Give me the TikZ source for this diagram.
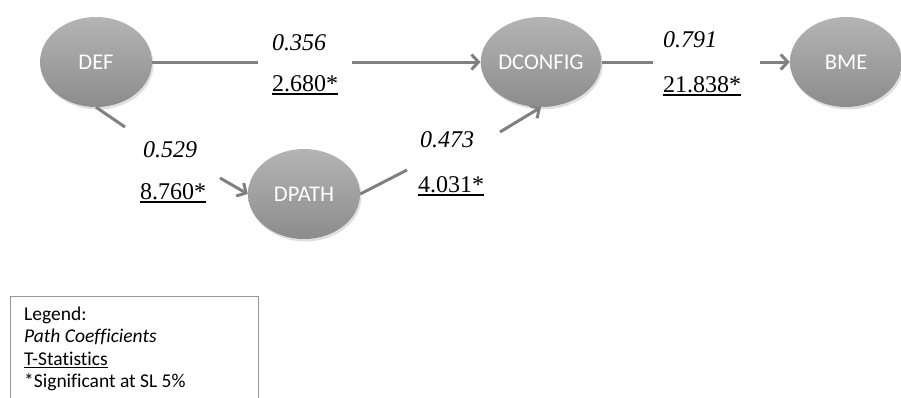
\documentclass[tikz,border=0pt]{standalone}
\usepackage{fontspec}
\setmainfont{Liberation Serif}
\newfontfamily\calibfont[Ligatures=NoCommon]{Carlito}
\usetikzlibrary{shapes.geometric,arrows.meta,shadows,backgrounds}
\definecolor{edgegray}{RGB}{128,128,128}
\definecolor{ballTop}{RGB}{180,180,180}
\definecolor{ballBot}{RGB}{140,140,140}
\definecolor{boxgray}{RGB}{150,150,150}
\newcommand\myuline[2][3.5pt]{\setbox0\hbox{#2}\rlap{\rule[-#1]{\wd0}{1.1pt}}\box0}
\tikzset{
  latent/.style={ellipse, minimum width=112pt, minimum height=90pt, inner sep=0pt,
    top color=ballTop, bottom color=ballBot, draw=none, text=white,
    font=\calibfont\fontsize{22.5}{26}\selectfont,
    drop shadow={opacity=0.25, shadow xshift=1.5pt, shadow yshift=-2.5pt}},
  edge/.style={draw=edgegray, line width=3pt},
  arr/.style={edge, -{Straight Barb[length=7pt,width=15pt,line width=3pt]}},
  coef/.style={font=\itshape\fontsize{24}{28}\selectfont, anchor=base west, inner sep=0pt},
  tstat/.style={font=\fontsize{24}{28}\selectfont, anchor=base west, inner sep=0pt},
  legendtext/.style={font=\calibfont\fontsize{19.5}{22.5}\selectfont, align=left, anchor=north west, inner sep=0pt}
}
\begin{document}
\begin{tikzpicture}[x=1pt,y=-1pt]
\useasboundingbox (0,0) rectangle (901,397);
% latent variables
\node[latent] (DEF) at (96,62) {DEF};
\node[latent] (DCONFIG) at (541,62) {DCONFIG};
\node[latent] (BME) at (846,62) {BME};
\node[latent] (DPATH) at (304,194) {DPATH};
% gap ends of the connectors
\coordinate (g1a) at (258,62); \coordinate (g1b) at (352,62);
\coordinate (g2a) at (653,62); \coordinate (g2b) at (760,62);
\coordinate (g3a) at (125,127); \coordinate (g3b) at (220,178);
\coordinate (g4a) at (407,170); \coordinate (g4b) at (500,132);
\begin{pgfonlayer}{background}
\draw[edge] (DEF) -- (g1a);
\draw[arr] (g1b) -- (DCONFIG);
\draw[edge] (DCONFIG) -- (g2a);
\draw[arr] (g2b) -- (BME);
\draw[edge] (DEF.south) -- (g3a);
\draw[arr] (g3b) -- (DPATH.west);
\draw[edge] (DPATH.east) -- (g4a);
\draw[arr] (g4b) -- (DCONFIG.south);
\end{pgfonlayer}
% labels
\node[coef] (c1) at (272,50) {0.356};
\node[tstat] (t1) at (272,91) {\myuline{2.680*}};
\node[coef] (c2) at (663,47) {0.791};
\node[tstat] (t2) at (663,92) {\myuline{21.838*}};
\node[coef] (c3) at (143,157) {0.529};
\node[tstat] (t3) at (140,199) {\myuline{8.760*}};
\node[coef] (c4) at (420,147) {0.473};
\node[tstat] (t4) at (418,192) {\myuline{4.031*}};
% legend
\node[draw=boxgray, line width=1pt, anchor=north west, minimum width=248pt, minimum height=130pt, inner sep=0pt] (legbox) at (10,296) {};
\node[legendtext] (leg) at (24,306.5) {Legend:\\\textit{Path Coefficients}\\\myuline[2.5pt]{T-Statistics}\\{}*Significant at SL 5\%};
\end{tikzpicture}
\end{document}
